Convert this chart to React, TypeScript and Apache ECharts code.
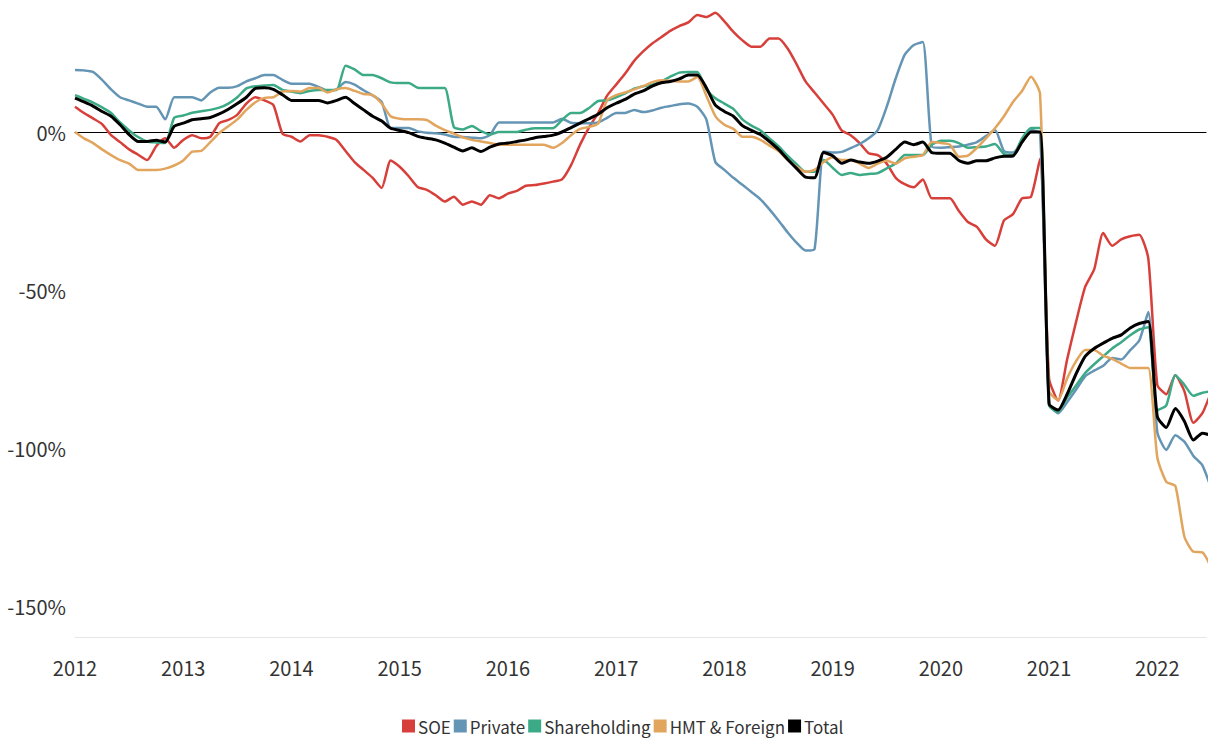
import React, { useEffect, useRef } from "react";
import * as echarts from "echarts";

const startYear = 2012;
const monthCount = 127;
const monthX = Array.from({ length: monthCount }, (_, i) => startYear + i / 12);
const yTickValues = [-150, -100, -50, 0];
const seriesNames = ["SOE", "Private", "Shareholding", "HMT & Foreign", "Total"];
const seriesColors = ["#d7403a", "#6595b5", "#3caa86", "#e2a55e", "#000000"];

// monthly values, Jan 2012 onward (%)
const soe = [
  8, 6, 4.3, 2.5, -1, -3.2, -5.5, -7.2, -8.9, -4.5, -2, -5,
  -2.5, -1, -2, -1.5, 2.8, 3.8, 5.5, 9, 11, 10, 8.5, -0.5,
  -1.5, -3, -1, -1, -1.5, -2.5, -6, -9.5, -12, -14.5, -17.7, -9,
  -11, -14, -17.4, -18.3, -20, -22, -20.5, -23, -22, -23, -20, -21,
  -19.5, -18.6, -17, -16.8, -16.3, -15.7, -15, -10.5, -4, 1.5, 6, 11.5,
  15, 18.5, 22.5, 25.5, 28, 30, 32, 33.5, 34.7, 37, 36.4, 37.7,
  35, 31.7, 29, 27, 27, 29.6, 29.6, 26.5, 21.5, 16, 12.5, 9,
  5.5, 0.5, -1, -3.5, -6.7, -7.3, -10, -14.5, -16.5, -17.5, -15, -21,
  -21, -21, -25, -28.5, -30, -34, -36, -28, -26, -21, -20.5, -8.5,
  -78, -85, -72, -60, -49, -43.5, -32, -36, -34, -33, -32.5, -40,
  -80, -83, -77, -82, -92, -89, -82,
];
const privateS = [
  19.6, 19.5, 19, 16.5, 13.5, 11, 10, 9, 8, 8, 4, 11,
  11, 11, 10, 12.5, 14, 14, 14.5, 16, 17, 18, 18, 16.5,
  15.3, 15.3, 15.3, 14.3, 13, 13.5, 15.8, 15, 13.2, 11.6, 9.5, 1.3,
  1.3, 1.3, 0.2, -0.2, -0.4, -0.8, -1.5, -1.6, -1.8, -2, -1, 3,
  3, 3, 3, 3, 3, 3, 4.2, 2.9, 2.8, 2.8, 3, 4.5,
  6, 6, 7, 6.3, 6.8, 7.7, 8.2, 8.8, 9, 8, 4, -9.5,
  -12, -14.5, -16.7, -19, -21.3, -24.5, -28, -31.7, -35, -37.5, -37, -6.2,
  -6.5, -6.3, -5.1, -3.8, -2, 0.6, 8, 17, 24.5, 27.5, 28.5, -4.6,
  -5, -4.8, -4.6, -4, -3.2, -1.3, 0.6, -6, -6.5, -3.3, 0.6, -0.5,
  -86, -89, -85.5, -81.5, -77.3, -75.5, -74, -71.5, -72, -69, -66, -57,
  -95, -100.6, -96, -98, -102.5, -105.5, -113,
];
const shareholding = [
  11.7, 10.5, 9.3, 7.8, 6, 3, 0.5, -1.6, -3, -3.3, -3.5, 4.5,
  5.2, 6.1, 6.6, 7, 7.7, 9, 11, 13.8, 14.5, 14.7, 14.9, 13.3,
  12.8, 12.3, 13, 13.3, 13.3, 13.3, 21, 19.8, 18, 18, 17, 15.7,
  15.5, 15.5, 14, 13.9, 13.9, 13.9, 1.6, 0.8, 1.9, 0.3, -0.8, 0,
  0, 0, 0.7, 1.2, 1.2, 1.2, 3.8, 6, 6, 7.6, 9.8, 10,
  11, 12.2, 13.7, 14.5, 15, 16, 17.5, 18.8, 19, 19, 13.5, 10.7,
  9, 7.3, 4, 2, 0.5, -2, -4.5, -7.5, -10.2, -12.6, -12.6, -8.9,
  -11.3, -13.6, -13, -13.6, -13.3, -13, -11.5, -10, -7.3, -7.3, -7.3, -4,
  -2.8, -2.8, -3.5, -5, -4.8, -4.6, -3.8, -7, -7.3, -2, 1.3, 1.3,
  -86.5, -88.6, -84, -80.2, -76.3, -73.5, -71, -68.5, -66.5, -64.3, -62.5, -61.8,
  -88, -86.5, -77, -80, -83.5, -82.5, -82,
];
const hmtForeign = [
  0, -2, -3.5, -5.5, -7.3, -8.9, -10, -12, -12, -12, -11.6, -10.6,
  -9, -6.2, -6, -3.2, -0.3, 1.8, 4, 7, 9.4, 10.8, 11, 12.8,
  13, 12.8, 13.9, 13.9, 12.5, 13.5, 13.9, 13, 12, 11.7, 9, 5,
  4.2, 4, 4, 3.8, 2, 0.6, -0.5, -1.7, -2.5, -3, -3.5, -4,
  -4, -4, -4, -4, -4, -5, -3.5, -1, 1, 1.6, 2.7, 10,
  11.7, 12.5, 13.5, 14.5, 15.8, 16.4, 16.2, 16, 16, 17.4, 11.5, 5,
  2.3, 1, -1.5, -1.5, -2.5, -4.3, -6, -8.8, -11, -12.6, -12, -9.5,
  -8, -8.9, -8.9, -10, -11.4, -10, -9, -10, -8.3, -7.8, -7.3, -3.2,
  -3.5, -4, -7.8, -7.5, -5, -2, 1.2, 5, 9.5, 13, 17.5, 12,
  -82, -84.8, -78, -72.5, -69, -69, -70.8, -71.8, -73.3, -74.7, -74.7, -74.7,
  -103, -110.7, -112, -128, -132.8, -133, -138,
];
const total = [
  10.7, 9.5, 8.2, 6.5, 5, 2.3, -0.8, -3, -3, -2.6, -3.2, 1.8,
  2.8, 3.9, 4.2, 4.6, 5.7, 7.2, 9, 11, 13.8, 14, 13.5, 11.8,
  10, 10, 10, 10, 9.2, 10, 11, 9, 7, 5, 3.5, 1.2,
  0.5, -0.2, -1.4, -2, -2.5, -3.5, -4.8, -6, -5, -6.2, -4.8, -3.8,
  -3.5, -3, -2.5, -1.8, -1.4, -1, 0, 1.4, 2.8, 4.2, 5.6, 7.7,
  9.1, 10.3, 12, 13, 14.5, 15.6, 16, 16.8, 18, 18, 14, 8.5,
  6.5, 5, 2, 0.5, -0.8, -3, -5.5, -8.6, -11.5, -14.3, -14.5, -6.5,
  -7.5, -9.9, -8.9, -9.5, -9.9, -9.2, -8, -5.5, -3.2, -4, -3.2, -6.5,
  -6.7, -6.7, -9, -9.9, -9.1, -9.1, -8.2, -7.7, -7.6, -3.2, 0, 0,
  -86, -88, -83, -76.5, -71, -68.5, -66.8, -65.3, -64.2, -62, -60.6, -60,
  -90, -93.5, -87.5, -91.5, -97.5, -95.3, -96,
];
const allSeries = [soe, privateS, shareholding, hmtForeign, total];

const FONT = "'Noto Sans CJK SC', 'Noto Sans', sans-serif";

export default function App() {
  const ref = useRef<HTMLDivElement>(null);
  useEffect(() => {
    if (!ref.current) return;
    const chart = echarts.init(ref.current, undefined, { renderer: "svg" });
    chart.setOption({
      animation: false,
      backgroundColor: "#ffffff",
      textStyle: { fontFamily: FONT },
      grid: { left: 75, right: 0, top: 5.6, bottom: 100.4, containLabel: false },
      legend: {
        top: 716,
        left: 402,
        padding: 0,
        icon: "rect",
        itemWidth: 13,
        itemHeight: 13,
        itemGap: 3,
        itemStyle: { borderWidth: 0 },
        textStyle: { fontSize: 17, lineHeight: 20, color: "#333", fontFamily: FONT, padding: [0, 0, 0, -2] },
        data: seriesNames,
      },
      xAxis: [
        {
          type: "value",
          min: 2012,
          max: 2022.45,
          interval: 1,
          axisLine: { onZero: false, lineStyle: { color: "#e6e6e6", width: 1 } },
          axisTick: { show: false },
          splitLine: { show: false },
          axisLabel: {
            fontSize: 20,
            color: "#333",
            fontFamily: FONT,
            margin: 20,
            formatter: (v: number) => (Number.isInteger(v) ? String(v) : ""),
          },
        },
        {
          type: "value",
          min: 2012,
          max: 2022.45,
          position: "bottom",
          axisLine: { show: true, onZero: true, lineStyle: { color: "#000", width: 1 } },
          axisTick: { show: false },
          axisLabel: { show: false },
          splitLine: { show: false },
        },
      ],
      yAxis: {
        type: "value",
        min: -160,
        max: 40,
        axisLine: { show: false },
        axisTick: { show: false },
        splitLine: { show: false },
        axisLabel: {
          customValues: yTickValues,
          fontSize: 20,
          color: "#333",
          fontFamily: FONT,
          margin: 9,
          formatter: (v: number) => `${v}%`,
        },
      },
      series: allSeries.map((vals, k) => ({
        name: seriesNames[k],
        type: "line",
        xAxisIndex: 0,
        data: vals.map((v, i) => [monthX[i], v]),
        showSymbol: false,
        symbol: "none",
        smooth: 0.2,
        clip: true,
        color: seriesColors[k],
        lineStyle: { color: seriesColors[k], width: k === 4 ? 3 : 2.5 },
        z: 2 + k,
      })),
    });
    return () => chart.dispose();
  }, []);
  return (
    <div
      ref={ref}
      style={{ position: "absolute", left: 0, top: 0, width: 1209, height: 738, background: "#fff" }}
    />
  );
}
